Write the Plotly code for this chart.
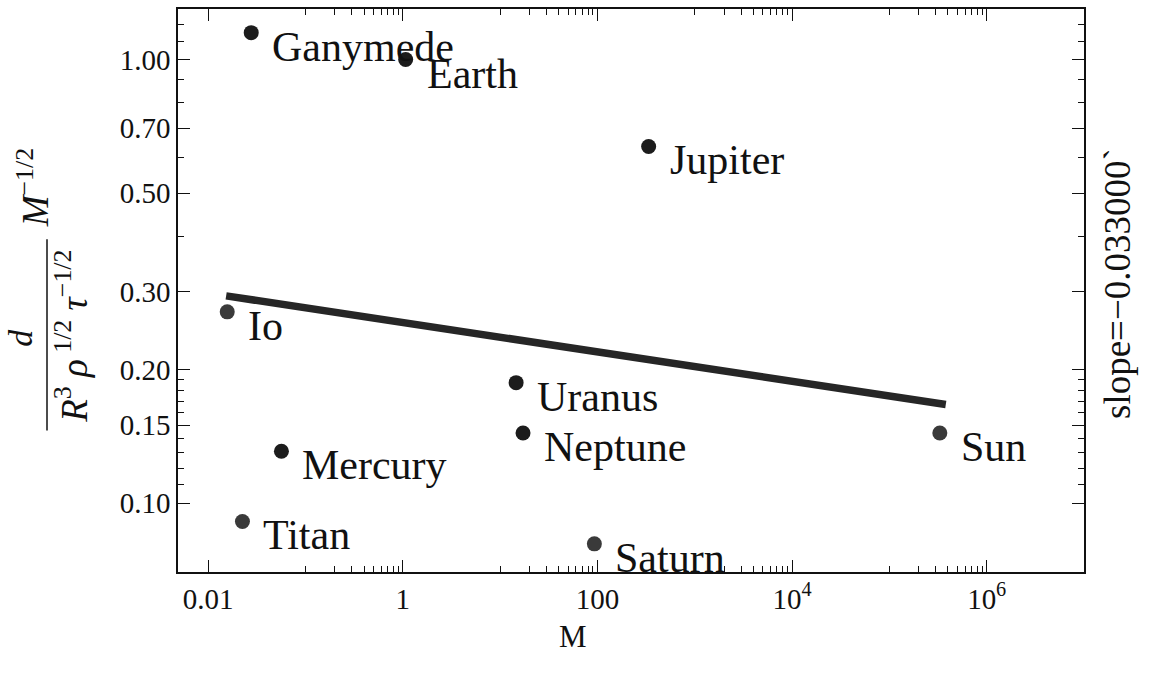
import numpy as np
import plotly.graph_objects as go

# ---- data ----
names = ["Ganymede", "Earth", "Jupiter", "Io", "Uranus", "Neptune", "Sun", "Mercury", "Titan", "Saturn"]
mass = [0.0277, 1.07, 336, 0.0157, 14.6, 17.2, 3.3e5, 0.0566, 0.0225, 93]
ratio = [1.15, 1.0, 0.637, 0.270, 0.187, 0.144, 0.144, 0.131, 0.091, 0.081]
marker_colors = ["#1c1c1c", "#1c1c1c", "#1c1c1c", "#3a3a3a", "#1c1c1c", "#1c1c1c",
                 "#3a3a3a", "#1c1c1c", "#3a3a3a", "#3a3a3a"]

fit_x = [0.0153, 3.8e5]
fit_y = [0.2934, 0.167]
slope_label = "slope=−0.033000`"

x_tickvals = [0.01, 1, 100, 1e4, 1e6]
x_ticktext = ["0.01", "1", "100", "10<sup>4</sup>", "10<sup>6</sup>"]
x_minor = [0.1, 0.2, 0.3, 0.4, 0.5, 0.6, 0.7, 0.8, 0.9,
           10, 20, 30, 40, 50, 60, 70, 80, 90,
           1000, 2000, 3000, 4000, 5000, 6000, 7000, 8000, 9000,
           1e5, 2e5, 3e5, 4e5, 5e5, 6e5, 7e5, 8e5, 9e5]
y_tickvals = [0.10, 0.15, 0.20, 0.30, 0.50, 0.70, 1.00]
y_ticktext = ["0.10", "0.15", "0.20", "0.30", "0.50", "0.70", "1.00"]
y_minor = [0.11, 0.12, 0.13, 0.14, 0.16, 0.17, 0.18, 0.19, 0.4, 0.6, 0.8, 0.9, 1.1, 1.2]

x_range = [-2.31, 7.0]
y_range = [np.log10(0.070), np.log10(1.30)]

# ---- layout geometry (pixels) ----
W, H = 1149, 677
ML, MR, MT, MB = 178, 65, 7, 105
PW, PH = W - ML - MR, H - MT - MB


def px(xp):
    return (xp - ML) / PW


def py(yp):
    return (H - MB - yp) / PH


FONT = "Liberation Serif, Times New Roman, serif"
INK = "#111"

fig = go.Figure()
fig.add_trace(go.Scatter(x=fit_x, y=fit_y, mode="lines",
                         line=dict(color="#262626", width=7.5), hoverinfo="skip"))
fig.add_trace(go.Scatter(x=mass, y=ratio, mode="markers",
                         marker=dict(size=15, color=marker_colors, line=dict(width=0))))
# invisible trace to activate the minor-tick axes
fig.add_trace(go.Scatter(x=[mass[0]], y=[ratio[0]], xaxis="x2", yaxis="y2", mode="markers",
                         marker=dict(opacity=0), hoverinfo="skip"))

annotations = []
for n, m, r in zip(names, mass, ratio):
    annotations.append(dict(x=np.log10(m), y=np.log10(r), xref="x", yref="y",
                            text=n, showarrow=False, xanchor="left", yanchor="middle",
                            xshift=19, yshift=-14,
                            font=dict(family=FONT, size=42, color=INK)))

# y-axis title (fraction) built from rotated pieces
annotations += [
    dict(x=px(21), y=py(337), xref="paper", yref="paper", text="<i>d</i>", textangle=-90,
         showarrow=False, xanchor="center", yanchor="middle",
         font=dict(family=FONT, size=34, color=INK)),
    dict(x=px(72), y=py(336), xref="paper", yref="paper",
         text="<i>R</i><sup>3</sup> <i>ρ</i><sup> 1/2</sup> <i>τ</i><sup>−1/2</sup>", textangle=-90,
         showarrow=False, xanchor="center", yanchor="middle",
         font=dict(family=FONT, size=37, color=INK)),
    dict(x=px(33), y=py(186), xref="paper", yref="paper",
         text="<i>M</i><sup>−1/2</sup>", textangle=-90,
         showarrow=False, xanchor="center", yanchor="middle",
         font=dict(family=FONT, size=37, color=INK)),
    dict(x=px(573), y=py(637), xref="paper", yref="paper", text="M",
         showarrow=False, xanchor="center", yanchor="middle",
         font=dict(family=FONT, size=31, color=INK)),
    dict(x=px(1117), y=py(283), xref="paper", yref="paper", text=slope_label, textangle=-90,
         showarrow=False, xanchor="center", yanchor="middle",
         font=dict(family=FONT, size=37, color=INK)),
]

shapes = [dict(type="line", xref="paper", yref="paper", x0=px(47), x1=px(47),
               y0=py(238), y1=py(430), line=dict(color=INK, width=1.5))]

fig.update_layout(
    width=W, height=H,
    margin=dict(l=ML, r=MR, t=MT, b=MB),
    paper_bgcolor="white", plot_bgcolor="white",
    showlegend=False,
    annotations=annotations, shapes=shapes,
    font=dict(family=FONT, color=INK),
    xaxis=dict(type="log", range=x_range, showgrid=False, zeroline=False,
               showline=True, linecolor=INK, linewidth=1.5, mirror="ticks",
               ticks="inside", ticklen=12, tickwidth=1.3, tickcolor=INK,
               tickmode="array", tickvals=x_tickvals, ticktext=x_ticktext,
               tickfont=dict(family=FONT, size=29, color=INK)),
    yaxis=dict(type="log", range=y_range, showgrid=False, zeroline=False,
               showline=True, linecolor=INK, linewidth=1.5, mirror="ticks",
               ticks="inside", ticklen=12, tickwidth=1.3, tickcolor=INK,
               tickmode="array", tickvals=y_tickvals, ticktext=y_ticktext,
               tickfont=dict(family=FONT, size=29, color=INK)),
    xaxis2=dict(type="log", range=x_range, overlaying="x", anchor="y", side="bottom",
                showgrid=False, zeroline=False, showline=False, mirror="ticks",
                ticks="inside", ticklen=6, tickwidth=1, tickcolor=INK,
                tickmode="array", tickvals=x_minor, showticklabels=False),
    yaxis2=dict(type="log", range=y_range, overlaying="y", anchor="x", side="left",
                showgrid=False, zeroline=False, showline=False, mirror="ticks",
                ticks="inside", ticklen=6, tickwidth=1, tickcolor=INK,
                tickmode="array", tickvals=y_minor, showticklabels=False),
)

fig.write_html("out.html")
